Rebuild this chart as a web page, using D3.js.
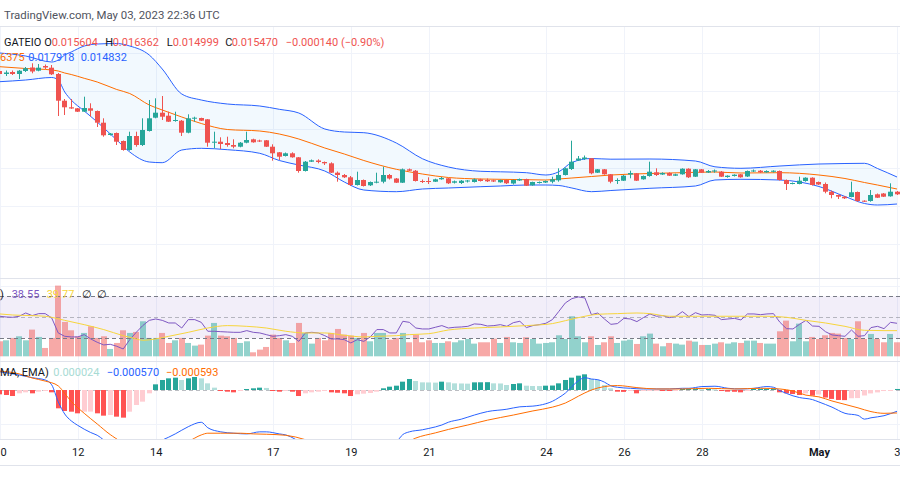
<!DOCTYPE html>
<html><head><meta charset="utf-8">
<script src="https://cdn.jsdelivr.net/npm/d3@7"></script>
<style>html,body{margin:0;padding:0;background:#fff;}svg{display:block;font-family:Roboto,'Liberation Sans',Arial,sans-serif;}</style>
</head><body><svg id="c" width="900" height="500"></svg>
<script>
// ---------- DATA (GATEIO, 4h candles from 2023-04-10 00:00 UTC) ----------
const candleStart = "2023-04-10T00:00:00Z";
const candleHours = 4;
const open=[0.02820,0.02790,0.02810,0.02790,0.02820,0.02855,0.02823,0.02870,0.02853,0.02790,
0.02523,0.02457,0.02447,0.02413,0.02447,0.02420,0.02303,0.02180,0.02200,0.02120,
0.02030,0.02170,0.02080,0.02220,0.02353,0.02403,0.02373,0.02320,0.02323,0.02203,
0.02347,0.02350,0.02337,0.02103,0.02113,0.02100,0.02080,0.02063,0.02103,0.02137,
0.02125,0.02127,0.02063,0.02007,0.01970,0.01997,0.01957,0.01820,0.01913,0.01925,
0.01910,0.01897,0.01803,0.01780,0.01757,0.01680,0.01730,0.01677,0.01703,0.01713,
0.01780,0.01745,0.01703,0.01837,0.01823,0.01720,0.01720,0.01713,0.01737,0.01747,
0.01703,0.01700,0.01715,0.01710,0.01737,0.01730,0.01727,0.01707,0.01730,0.01695,
0.01725,0.01740,0.01677,0.01700,0.01705,0.01713,0.01727,0.01780,0.01840,0.01925,
0.01940,0.01947,0.01803,0.01837,0.01787,0.01720,0.01723,0.01785,0.01797,0.01737,
0.01770,0.01807,0.01785,0.01800,0.01773,0.01787,0.01843,0.01763,0.01837,0.01805,
0.01815,0.01813,0.01760,0.01770,0.01787,0.01765,0.01817,0.01823,0.01807,0.01812,
0.01820,0.01730,0.01690,0.01690,0.01720,0.01753,0.01710,0.01690,0.01613,0.01580,
0.01563,0.01560,0.01610,0.01523,0.01520,0.01587,0.01595,0.01567,0.01613];
const high=[0.02830,0.02825,0.02825,0.02830,0.02860,0.02897,0.02890,0.02885,0.02880,0.02800,
0.02540,0.02540,0.02450,0.02563,0.02497,0.02425,0.02347,0.02200,0.02205,0.02125,
0.02213,0.02213,0.02347,0.02530,0.02547,0.02570,0.02413,0.02413,0.02330,0.02387,
0.02363,0.02353,0.02340,0.02213,0.02157,0.02163,0.02137,0.02110,0.02213,0.02143,
0.02133,0.02130,0.02087,0.02010,0.02005,0.02007,0.01960,0.01920,0.01935,0.01937,
0.01915,0.01907,0.01815,0.01790,0.01770,0.01813,0.01735,0.01715,0.01803,0.01863,
0.01790,0.01750,0.01845,0.01845,0.01830,0.01735,0.01757,0.01743,0.01760,0.01750,
0.01725,0.01730,0.01730,0.01745,0.01743,0.01745,0.01733,0.01735,0.01733,0.01735,
0.01745,0.01743,0.01713,0.01715,0.01725,0.01763,0.01847,0.01855,0.02123,0.01970,
0.01975,0.01950,0.01840,0.01840,0.01790,0.01747,0.01780,0.01823,0.01800,0.01775,
0.01913,0.01847,0.01807,0.01807,0.01793,0.01847,0.01847,0.01840,0.01840,0.01830,
0.01835,0.01820,0.01777,0.01787,0.01790,0.01825,0.01835,0.01830,0.01827,0.01827,
0.01825,0.01735,0.01705,0.01763,0.01757,0.01757,0.01715,0.01705,0.01625,0.01585,
0.01570,0.01713,0.01615,0.01527,0.01630,0.01595,0.01600,0.01697,0.01620];
const low=[0.02780,0.02770,0.02780,0.02740,0.02810,0.02797,0.02817,0.02840,0.02780,0.02370,
0.02380,0.02442,0.02410,0.02410,0.02363,0.02260,0.02163,0.02175,0.02080,0.02023,
0.02023,0.02063,0.02070,0.02215,0.02347,0.02330,0.02310,0.02313,0.02170,0.02197,
0.02313,0.02320,0.02063,0.02047,0.02040,0.02063,0.02047,0.02057,0.02097,0.02103,
0.02110,0.02060,0.01923,0.01930,0.01965,0.01953,0.01803,0.01815,0.01910,0.01897,
0.01880,0.01800,0.01713,0.01750,0.01670,0.01675,0.01665,0.01670,0.01697,0.01697,
0.01735,0.01700,0.01700,0.01820,0.01715,0.01700,0.01690,0.01710,0.01733,0.01690,
0.01695,0.01690,0.01705,0.01705,0.01715,0.01710,0.01710,0.01703,0.01690,0.01685,
0.01720,0.01670,0.01673,0.01695,0.01700,0.01697,0.01713,0.01775,0.01830,0.01920,
0.01930,0.01787,0.01800,0.01783,0.01697,0.01690,0.01720,0.01747,0.01720,0.01733,
0.01763,0.01770,0.01780,0.01770,0.01770,0.01783,0.01750,0.01760,0.01800,0.01800,
0.01803,0.01760,0.01753,0.01765,0.01753,0.01760,0.01810,0.01800,0.01803,0.01805,
0.01725,0.01630,0.01687,0.01687,0.01713,0.01675,0.01680,0.01597,0.01547,0.01540,
0.01540,0.01557,0.01513,0.01510,0.01513,0.01550,0.01560,0.01563,0.01580];
const close=[0.02790,0.02805,0.02790,0.02823,0.02847,0.02815,0.02853,0.02855,0.02787,0.02523,
0.02457,0.02445,0.02413,0.02450,0.02423,0.02303,0.02177,0.02195,0.02113,0.02030,
0.02170,0.02080,0.02230,0.02347,0.02403,0.02363,0.02313,0.02330,0.02203,0.02347,
0.02353,0.02323,0.02103,0.02113,0.02090,0.02080,0.02063,0.02103,0.02130,0.02107,
0.02115,0.02063,0.01997,0.01963,0.01997,0.01957,0.01820,0.01913,0.01927,0.01910,
0.01897,0.01803,0.01780,0.01757,0.01680,0.01730,0.01670,0.01710,0.01713,0.01780,
0.01745,0.01703,0.01837,0.01823,0.01720,0.01713,0.01713,0.01737,0.01750,0.01697,
0.01717,0.01723,0.01725,0.01737,0.01720,0.01717,0.01715,0.01730,0.01697,0.01730,
0.01740,0.01673,0.01710,0.01710,0.01720,0.01737,0.01780,0.01847,0.01913,0.01945,
0.01955,0.01797,0.01837,0.01787,0.01713,0.01730,0.01773,0.01800,0.01723,0.01770,
0.01813,0.01780,0.01800,0.01773,0.01787,0.01843,0.01757,0.01837,0.01803,0.01820,
0.01825,0.01763,0.01773,0.01783,0.01757,0.01820,0.01825,0.01807,0.01820,0.01823,
0.01730,0.01690,0.01700,0.01723,0.01753,0.01680,0.01685,0.01613,0.01580,0.01563,
0.01547,0.01607,0.01520,0.01515,0.01580,0.01553,0.01563,0.01613,0.01587];
const volume=[450,480,550,600,480,800,580,250,550,2120,
1030,780,600,700,900,550,600,220,400,780,
700,730,1050,550,550,700,400,480,550,400,
320,350,620,1000,620,600,550,400,450,120,
200,280,650,550,480,400,1000,700,380,550,
480,700,820,650,620,550,700,450,700,700,
500,550,700,420,650,420,480,400,400,450,
420,480,520,380,420,420,530,400,580,420,
400,570,520,380,400,420,630,520,1200,600,
420,600,340,420,600,400,470,500,370,600,
680,380,300,400,380,350,470,440,340,340,
380,420,380,420,400,470,470,400,380,380,
750,1070,450,980,450,580,520,630,700,680,
550,520,1050,520,670,520,420,670,420];
// Bollinger Bands (20, close, 2) read at bar indices
const bbIdx=[0,4,8,9,10,11,13,15,18,20,23,25,28,31,35,40,43,46,50,53,56,61,65,69,74,77,81,84,86,88,91,94,100,107,110,114,120,126,130,133,135,138];
const bbUpper=[0.03000,0.02970,0.02910,0.02930,0.02980,0.03010,0.03070,0.03090,0.03095,0.03070,0.02980,0.02840,0.02590,0.02530,0.02490,0.02470,0.02437,0.02400,0.02240,0.02210,0.02203,0.02100,0.01943,0.01860,0.01817,0.01812,0.01803,0.01780,0.01813,0.01905,0.01945,0.01938,0.01940,0.01920,0.01862,0.01847,0.01870,0.01890,0.01895,0.01897,0.01845,0.01760];
const bbBasis=[0.02863,0.02845,0.02830,0.02820,0.02800,0.02785,0.02747,0.02710,0.02635,0.02595,0.02480,0.02430,0.02360,0.02295,0.02235,0.02220,0.02190,0.02140,0.02050,0.01990,0.01925,0.01837,0.01790,0.01755,0.01740,0.01737,0.01733,0.01730,0.01740,0.01750,0.01765,0.01780,0.01795,0.01807,0.01810,0.01800,0.01803,0.01780,0.01745,0.01705,0.01680,0.01640];
const bbLower=[0.02713,0.02730,0.02755,0.02730,0.02610,0.02530,0.02420,0.02310,0.02130,0.02010,0.01910,0.01903,0.02030,0.02047,0.02033,0.01997,0.01925,0.01880,0.01820,0.01710,0.01630,0.01613,0.01640,0.01650,0.01663,0.01670,0.01680,0.01680,0.01675,0.01650,0.01613,0.01625,0.01647,0.01670,0.01730,0.01737,0.01730,0.01665,0.01565,0.01495,0.01480,0.01490];
// RSI (14) per bar and its moving average at bar indices
const rsi=[51.0,50.3,50.0,51.0,54.1,51.6,53.5,53.5,49.4,35.1,
31.9,31.3,31.3,33.5,29.4,26.2,23.7,24.3,22.4,19.8,
28.7,35.7,42.1,47.1,48.4,47.1,44.6,44.6,39.8,47.8,
47.8,45.2,36.7,36.7,36.3,36.0,35.7,35.7,37.3,35.7,
35.1,33.5,31.9,32.5,33.5,31.9,27.1,35.1,35.7,35.1,
32.5,29.4,29.4,28.7,25.6,28.7,27.1,31.3,38.3,38.3,
35.1,35.1,46.2,45.2,39.8,38.9,38.9,40.5,42.1,39.8,
40.5,40.8,41.4,43.7,43.3,41.7,42.1,43.0,41.4,44.9,
46.2,40.2,42.1,43.0,44.3,47.8,55.7,63.7,67.8,69.4,
68.4,52.5,54.1,48.4,43.3,44.0,49.0,48.4,45.9,49.7,
53.2,51.0,51.6,49.7,51.0,55.4,50.6,54.4,52.2,52.5,
51.9,47.8,48.4,49.0,47.5,53.2,53.2,52.5,53.2,53.5,
45.2,39.2,38.9,43.3,47.1,41.7,41.4,36.3,33.2,32.5,
31.9,37.9,31.9,32.5,40.2,41.4,39.2,45.2,44.3];
const rsiMaIdx=[0,2,5,7,10,13,16,19,21,22,24,26,29,32,35,38,41,44,47,50,53,56,58,61,63,66,69,73,77,81,85,87,90,92,95,98,100,103,107,110,114,118,121,124,127,130,133,136,138];
const rsiMa=[53.2,52.2,51.6,51.0,47.1,43.0,38.3,32.5,29.4,28.1,29.4,31.9,35.7,39.8,42.1,41.4,39.8,36.7,35.1,35.1,32.9,31.3,31.9,32.5,33.5,34.4,37.9,39.8,40.8,42.1,44.0,46.8,51.0,52.9,53.5,54.1,53.5,51.0,51.0,51.0,51.0,51.0,50.0,47.1,44.6,41.4,37.6,37.3,37.3];
// MACD (12, 26, 9): histogram per bar, lines at bar indices
const macdHist=[-0.000126,-0.000146,-0.000175,-0.000097,-0.000068,-0.000097,-0.000049,-0.000029,-0.000068,-0.000534,
-0.000612,-0.000632,-0.000680,-0.000632,-0.000630,-0.000680,-0.000748,-0.000729,-0.000777,-0.000806,
-0.000632,-0.000437,-0.000340,-0.000097,0.000165,0.000292,0.000340,0.000360,0.000292,0.000340,
0.000379,0.000340,0.000194,0.000068,-0.000029,-0.000049,-0.000068,-0.000029,0.000029,0.000049,
0.000068,0.000060,-0.000029,-0.000049,-0.000029,-0.000049,-0.000175,-0.000097,-0.000068,-0.000049,
-0.000019,-0.000068,-0.000080,-0.000097,-0.000175,-0.000126,-0.000107,-0.000087,-0.000049,0.000049,
0.000097,0.000126,0.000243,0.000321,0.000262,0.000223,0.000220,0.000215,0.000243,0.000223,
0.000194,0.000190,0.000185,0.000223,0.000225,0.000228,0.000194,0.000190,0.000146,0.000175,
0.000194,0.000126,0.000117,0.000115,0.000126,0.000130,0.000194,0.000292,0.000360,0.000418,
0.000457,0.000321,0.000292,0.000146,0.000049,-0.000049,-0.000055,-0.000029,-0.000097,-0.000029,
-0.000015,-0.000010,-0.000012,-0.000020,-0.000005,0.000029,0.000031,0.000033,0.000019,0.000029,
0.000019,-0.000019,-0.000049,-0.000052,-0.000068,-0.000029,0.000029,0.000031,0.000033,0.000035,
-0.000068,-0.000097,-0.000117,-0.000146,-0.000100,-0.000165,-0.000130,-0.000220,-0.000260,-0.000290,
-0.000295,-0.000240,-0.000235,-0.000160,-0.000100,-0.000070,-0.000030,-0.000010,0.000030];
const macdIdx=[0,3,5,7,8,9,10,11,12,14,15,17,20,23,25,27,29,31,32,34,36,38,40,41,43,44,47,52,56,59,61,62,63,65,66,68,69,71,73,75,78,80,82,84,85,86,87,88,89,90,91,92,93,94,95,97,99,103,105,106,108,110,112,114,116,118,119,120,121,122,123,125,126,128,130,132,133,134,136,137,138];
const macdLine=[0.000533,0.000437,0.000359,0.000292,0.00015,-0.000341,-0.0007,-0.0009,-0.00103,-0.00124,-0.00132,-0.0016,-0.00175,-0.0016,-0.00146,-0.00128,-0.00107,-0.00094,-0.0011,-0.00122,-0.00126,-0.00128,-0.00122,-0.00122,-0.00128,-0.00131,-0.0016,-0.0019,-0.00198,-0.00175,-0.00152,-0.0013,-0.00122,-0.00116,-0.00112,-0.00102,-0.00094,-0.00085,-0.00073,-0.00063,-0.00056,-0.00049,-0.00047,-0.0004,-0.00033,-0.00022,-0.00009,0.0001,0.00027,0.00036,0.00032,0.0003,0.00023,0.00012,0.00008,0.00005,0.00003,0.00003,0.00005,0.00005,0.0001,0.00011,0.00005,0.00003,0.00005,0.0001,0.00008,-0.00002,-0.0001,-0.00017,-0.00022,-0.00028,-0.00035,-0.0005,-0.00068,-0.00074,-0.00085,-0.00081,-0.00075,-0.00069,-0.00062];
const signalIdx=[0,3,5,7,9,10,11,13,15,17,20,25,29,31,32,34,37,39,41,44,50,56,62,64,67,69,72,75,79,82,85,87,89,91,93,95,98,101,105,109,113,117,120,122,124,126,128,130,132,134,136,138];
const signalLine=[0.000554,0.00047,0.00035,0.00026,0.00012,-0.0001,-0.00033,-0.00068,-0.00099,-0.0013,-0.0016,-0.00169,-0.0015,-0.00131,-0.00126,-0.00126,-0.00126,-0.00128,-0.00129,-0.00132,-0.0016,-0.00175,-0.00158,-0.0014,-0.00125,-0.00115,-0.00102,-0.00088,-0.00073,-0.00061,-0.0005,-0.00038,-0.00018,0,0.0001,0.00013,0.00007,0.00003,0.00003,0.00005,0.00003,0.00005,0.00003,-0.00003,-0.00015,-0.0002,-0.00032,-0.00042,-0.00052,-0.00063,-0.00068,-0.00067];
// axis ticks (first label shows only its visible part, as in the source)
const tickDates=["2023-04-10","2023-04-12","2023-04-14","2023-04-17","2023-04-19","2023-04-21","2023-04-24","2023-04-26","2023-04-28","2023-05-01","2023-05-03"];
const tickLabels=["0","12","14","17","19","21","24","26","28","May","3"];
const priceGrid=[0.0300,0.02618,0.02236,0.01854,0.01472,0.0109];
// legend texts
const headerText="TradingView.com, May 03, 2023 22:36 UTC";
const ohlcLegend=[["O","0.015604"],["H","0.016362"],["L","0.014999"],["C","0.015470"]];
const changeText="\u22120.000140 (\u22120.90%)";
const bbLegend=["6375","0.017918","0.014832"];
const rsiLegend=["38.55","39.77"];
const macdLegend=["0.000024","\u22120.000570","\u22120.000593"];

// ---------- DRAW ----------
const svg=d3.select("#c");
const W=900;
const UP="#26a69a", DN="#ef5350", GRID="#f0f3fa", SEP="#e0e3eb";
const t0=new Date(candleStart);
const tAt=i=>new Date(+t0+i*candleHours*3600e3);
const x=d3.scaleUtc().domain([new Date("2023-04-10T00:00:00Z"),new Date("2023-05-03T00:00:00Z")]).range([-0.3,897]);
const yP=d3.scaleLinear().domain([0.015,0.030]).range([203,53]);
const yR=d3.scaleLinear().domain([30,70]).range([338.3,296.3]);
const yV=d3.scaleLinear().domain([0,2120]).range([356.3,285.6]);
const yM=d3.scaleLinear().domain([0,-0.001]).range([390,424.3]);
const P={main:[27,278],rsi:[279,361],macd:[362,439]};

const defs=svg.append("defs");
Object.entries(P).forEach(([k,[a,b]])=>{
  defs.append("clipPath").attr("id","clip-"+k).append("rect").attr("x",0).attr("y",a).attr("width",W).attr("height",b-a);
});

// grid
const g=svg.append("g");
tickDates.forEach(d=>{
  const xx=Math.round(x(new Date(d+"T00:00:00Z")))+0.5;
  g.append("line").attr("x1",xx).attr("x2",xx).attr("y1",27).attr("y2",439).attr("stroke",GRID);
});
priceGrid.forEach(p=>{
  const yy=Math.round(yP(p))+0.5;
  g.append("line").attr("x1",0).attr("x2",W).attr("y1",yy).attr("y2",yy).attr("stroke",GRID);
});
[80].forEach(v=>{const yy=Math.round(yR(v))+0.5;g.append("line").attr("x1",0).attr("x2",W).attr("y1",yy).attr("y2",yy).attr("stroke",GRID);});
[-0.001].forEach(v=>{const yy=Math.round(yM(v))+0.5;g.append("line").attr("x1",0).attr("x2",W).attr("y1",yy).attr("y2",yy).attr("stroke",GRID);});

// separators
[26.5,278.5,361.5,439.5,465.5].forEach(yy=>svg.append("line").attr("x1",0).attr("x2",W).attr("y1",yy).attr("y2",yy).attr("stroke",SEP));

// ---- main pane
const gm=svg.append("g").attr("clip-path","url(#clip-main)");
const bb=bbIdx.map((d,k)=>({t:tAt(d),u:bbUpper[k],m:bbBasis[k],l:bbLower[k]}));
gm.append("path").datum(bb).attr("fill","rgba(33,150,243,0.06)")
  .attr("d",d3.area().x(d=>x(d.t)).y0(d=>yP(d.l)).y1(d=>yP(d.u)).curve(d3.curveMonotoneX));
const bline=k=>d3.line().x(d=>x(d.t)).y(d=>yP(d[k])).curve(d3.curveMonotoneX);
gm.append("path").datum(bb).attr("fill","none").attr("stroke","#ff6d00").attr("stroke-width",1).attr("d",bline("m"));
gm.append("path").datum(bb).attr("fill","none").attr("stroke","#2962ff").attr("stroke-width",1).attr("d",bline("u"));
gm.append("path").datum(bb).attr("fill","none").attr("stroke","#2962ff").attr("stroke-width",1).attr("d",bline("l"));

const bars=open.map((o,i)=>({i,t:tAt(i),o,h:high[i],l:low[i],c:close[i],v:volume[i],up:close[i]>=o}));
const bw=5;
bars.forEach(d=>{
  const bx=Math.round(x(d.t)-bw/2);
  const col=d.up?UP:DN;
  gm.append("line").attr("x1",bx+2.5).attr("x2",bx+2.5).attr("y1",yP(d.h)).attr("y2",yP(d.l)).attr("stroke",col).attr("stroke-width",1);
  const y1=yP(Math.max(d.o,d.c)), y2=yP(Math.min(d.o,d.c));
  gm.append("rect").attr("x",bx).attr("width",bw).attr("y",y1).attr("height",Math.max(1,y2-y1)).attr("fill",col);
});

// ---- RSI / volume pane
const gr=svg.append("g").attr("clip-path","url(#clip-rsi)");
gr.append("rect").attr("x",0).attr("width",W).attr("y",yR(70)).attr("height",yR(30)-yR(70)).attr("fill","rgba(126,87,194,0.1)");
bars.forEach(d=>{
  const bx=Math.round(x(d.t)-3);
  gr.append("rect").attr("x",bx).attr("width",6).attr("y",yV(d.v)).attr("height",yV(0)-yV(d.v))
    .attr("fill",d.up?"rgba(38,166,154,0.5)":"rgba(239,83,80,0.5)");
});
[[70,"#787b86"],[50,"rgba(120,123,134,0.5)"],[30,"#787b86"]].forEach(([v,c])=>{
  const yy=Math.round(yR(v))+0.5;
  gr.append("line").attr("x1",0).attr("x2",W).attr("y1",yy).attr("y2",yy).attr("stroke",c).attr("stroke-dasharray","4,3");
});
gr.append("path").datum(rsi).attr("fill","none").attr("stroke","#7e57c2").attr("stroke-width",1)
  .attr("d",d3.line().x((d,i)=>x(tAt(i))).y(d=>yR(d)));
gr.append("path").datum(rsiMa.map((v,k)=>({t:tAt(rsiMaIdx[k]),v}))).attr("fill","none").attr("stroke","#f7d53c").attr("stroke-width",1)
  .attr("d",d3.line().x(d=>x(d.t)).y(d=>yR(d.v)).curve(d3.curveMonotoneX));

// ---- MACD pane
const gd=svg.append("g").attr("clip-path","url(#clip-macd)");
gd.append("line").attr("x1",0).attr("x2",W).attr("y1",yM(0)+0.5).attr("y2",yM(0)+0.5).attr("stroke","rgba(120,123,134,0.5)").attr("stroke-dasharray","4,3");
macdHist.forEach((v,i)=>{
  const p=i>0?macdHist[i-1]:0;
  const col=v>=0?(p<v?"#26a69a":"#b2dfdb"):(p<v?"#ffcdd2":"#ff5252");
  const bx=Math.round(x(tAt(i))-2.5);
  const y0=yM(0), y1=yM(v);
  gd.append("rect").attr("x",bx).attr("width",5).attr("y",Math.min(y0,y1)).attr("height",Math.max(1,Math.abs(y1-y0))).attr("fill",col);
});
gd.append("path").datum(macdLine.map((v,k)=>({t:tAt(macdIdx[k]),v}))).attr("fill","none").attr("stroke","#2962ff").attr("stroke-width",1)
  .attr("d",d3.line().x(d=>x(d.t)).y(d=>yM(d.v)).curve(d3.curveMonotoneX));
gd.append("path").datum(signalLine.map((v,k)=>({t:tAt(signalIdx[k]),v}))).attr("fill","none").attr("stroke","#ff6d00").attr("stroke-width",1)
  .attr("d",d3.line().x(d=>x(d.t)).y(d=>yM(d.v)).curve(d3.curveMonotoneX));

// ---- time axis
const ax=svg.append("g").attr("transform","translate(0,439)")
  .call(d3.axisBottom(x).tickValues(tickDates.map(d=>new Date(d+"T00:00:00Z"))).tickFormat((d,i)=>tickLabels[i]).tickSize(0).tickPadding(9));
ax.select(".domain").remove();
ax.selectAll("text").attr("fill","#131722").style("font-size","11px").style("font-family","Roboto,'Liberation Sans',sans-serif")
  .style("font-weight",(d,i)=>tickLabels[i]==="May"?"700":"400")
  .attr("text-anchor",(d,i)=>i===0?"start":(i===tickLabels.length-1?"end":"middle"))
  .attr("x",(d,i)=>i===0?0.3:(i===tickLabels.length-1?3:0));

// ---- legends
const txt=(t,xx,yy,c,fs=11)=>svg.append("text").attr("x",xx).attr("y",yy).attr("fill",c).style("font-size",fs+"px").text(t);
txt(headerText,4,18.5,"#50535e",11.4);
const RED="#ef5350";
txt("GATEIO",4,45.5,"#131722");
const lx=[[44.3,51.7],[105.3,112.7],[166.7,172.7],[225.3,231.7]];
ohlcLegend.forEach(([l,v],k)=>{txt(l,lx[k][0],45.5,"#131722");txt(v,lx[k][1],45.5,RED);});
txt(changeText,285.7,45.5,RED);
txt(bbLegend[0],0,61,"#ff6d00");
txt(bbLegend[1],28.3,61,"#2962ff");
txt(bbLegend[2],80.7,61,"#2962ff");
txt(")",0,297.5,"#131722");
txt(rsiLegend[0],11.7,297.5,"#7e57c2");
txt(rsiLegend[1],46.7,297.5,"#f7d53c");
txt("\u2205",81.7,297.5,"#131722");
txt("\u2205",96.7,297.5,"#131722");
txt("MA, EMA)",0,376,"#131722");
txt(macdLegend[0],53.3,376,"#a7dbd4");
txt(macdLegend[1],106.7,376,"#2962ff");
txt(macdLegend[2],166,376,"#ff6d00");
</script></body></html>
